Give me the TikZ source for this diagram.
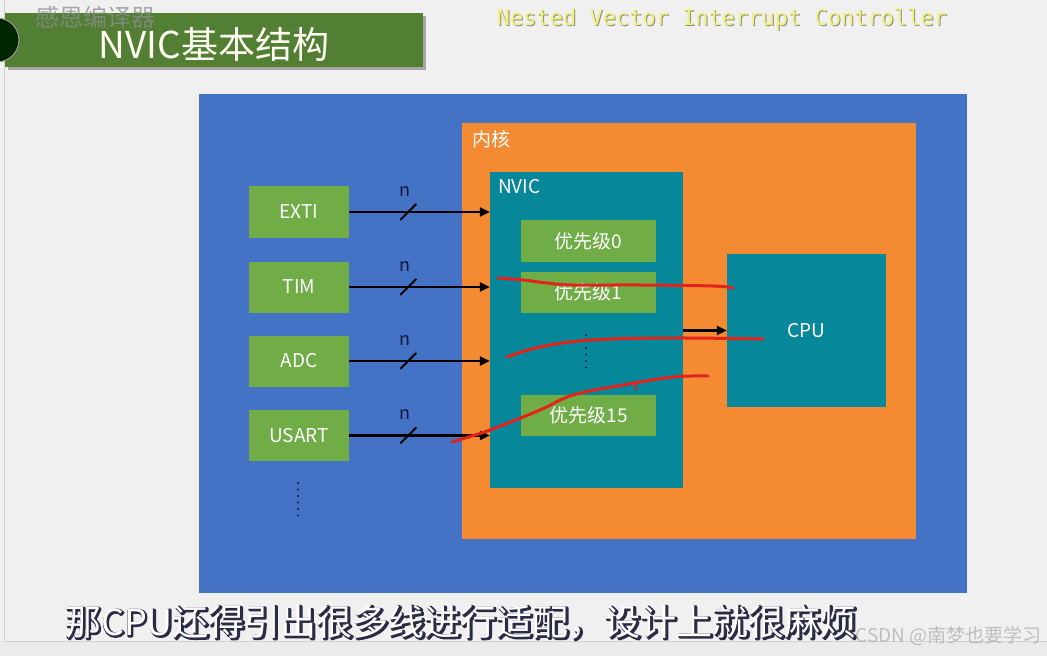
\documentclass[tikz,border=0pt]{standalone}
\usepackage{fontspec}
\setmainfont{Noto Sans CJK SC}
\newfontfamily\monof{DejaVu Sans Mono}
\newfontfamily\strokef[FakeBold=7]{Noto Sans CJK SC}
\usetikzlibrary{arrows.meta}
\definecolor{bgc}{HTML}{F0F0F0}
\definecolor{bannerc}{HTML}{527F33}
\definecolor{bluec}{HTML}{4472C4}
\definecolor{orangec}{HTML}{F48A31}
\definecolor{tealc}{HTML}{06879A}
\definecolor{greenc}{HTML}{70AD47}
\definecolor{redc}{HTML}{E2231A}
\definecolor{yellowc}{HTML}{F2F27A}
\definecolor{subout}{HTML}{2A2B45}
\definecolor{navyc}{HTML}{16183A}
\newcommand{\fsz}[1]{\fontsize{#1pt}{#1pt}\selectfont}
\tikzset{
  gbox/.style={fill=greenc, draw=none, text=white, font=\fsz{19}, inner sep=0pt},
  arr/.style={line width=2.8pt, draw=black, -{Triangle[length=10pt,width=9pt]}},
  sl/.style={line width=1.8pt, draw=black},
  nlab/.style={text=navyc, font=\fsz{18}, inner sep=0pt},
  lbl/.style={text=white, font=\fsz{19}, inner sep=0pt, anchor=north west},
  annot/.style={draw=redc, line width=3pt, line cap=round, line join=round},
  vdots/.style={draw=navyc, line width=2.2pt, line cap=round, dash pattern=on 0pt off 6.5pt},
  sub/.style={font=\fsz{36}, inner sep=0pt},
}
\begin{document}
\begin{tikzpicture}[x=1pt,y=-1pt]
\useasboundingbox (0,0) rectangle (1047,656);
\fill[bgc] (0,0) rectangle (1047,656);
\fill[white!92!black] (0,641) rectangle (1047,656);
\draw[black!18, line width=0.8pt] (4,-2) -- (4,641) -- (1050,641);
% banner
\fill[black!35] (8,16) rectangle (426,70);
\fill[bannerc] (5,13) rectangle (423,67);
\filldraw[fill=black!85!green, draw=black!40, line width=1pt] (-3,40) circle (22);
\node[text=white!95!yellow, font=\fsz{37}, inner sep=0pt] (title) at (214,44) {NVIC基本结构};
\node[text=black!45, opacity=0.75, font=\fsz{24}, inner sep=0pt] (wm1) at (95,17) {感恩编译器};
% english title
\node[text=black!45, font=\monof\fsz{22}, inner sep=0pt] (engsh) at (723,20) {Nested Vector Interrupt Controller};
\node[text=yellowc, font=\monof\fsz{22}, inner sep=0pt] (eng) at (722,19) {Nested Vector Interrupt Controller};
% main blocks
\fill[bluec] (199,94) rectangle (967,593);
\node[fill=orangec, minimum width=454pt, minimum height=416pt, inner sep=0pt] (core) at (689,331) {};
\node[lbl] (corel) at ([shift={(10,7)}]core.north west) {内核};
\node[fill=tealc, minimum width=193pt, minimum height=316pt, inner sep=0pt] (nvic) at (586.5,330) {};
\node[lbl] (nvicl) at ([shift={(8,7)}]nvic.north west) {NVIC};
\node[gbox, minimum width=135pt, minimum height=42pt] (p0) at (588.5,241) {优先级0};
\node[gbox, minimum width=135pt, minimum height=41pt] (p1) at (588.5,292.5) {优先级1};
\node[gbox, minimum width=135pt, minimum height=41pt] (p15) at (588.5,415.5) {优先级15};
\coordinate (d1a) at (586,335);
\coordinate (d1b) at (586,371);
\draw[vdots] (d1a) -- (d1b);
\node[fill=tealc, text=white, font=\fsz{19}, minimum width=159pt, minimum height=153pt, inner sep=0pt] (cpu) at (806.5,330.5) {CPU};
\draw[arr] (nvic.east |- cpu.west) -- (cpu.west);
% sources
\node[gbox, minimum width=100pt, minimum height=52pt] (exti) at (299,212) {EXTI};
\node[gbox, minimum width=100pt, minimum height=51pt] (tim) at (299,287) {TIM};
\node[gbox, minimum width=100pt, minimum height=51pt] (adc) at (299,361) {ADC};
\node[gbox, minimum width=100pt, minimum height=51pt] (usart) at (299,435.5) {USART};
\foreach \s in {exti,tim,adc,usart}{
  \draw[arr] (\s.east) -- coordinate[pos=0.42] (\s m) (\s.east -| nvic.west);
  \draw[sl] ([shift={(-8,8)}]\s m) -- ([shift={(8,-8)}]\s m);
  \node[nlab] (\s n) at ([shift={(-3,-21)}]\s m) {n};
}
\coordinate (d2a) at (298,483);
\coordinate (d2b) at (298,519);
\draw[vdots] (d2a) -- (d2b);
% red annotations
\draw[annot] plot[smooth, tension=0.6] coordinates {(498,278) (523,280) (547,283) (573,285) (640,285) (713,286) (733,288)};
\draw[annot] plot[smooth, tension=0.6] coordinates {(507,357) (540,347) (590,340) (673,338) (763,339)};
\draw[annot] plot[smooth, tension=0.6] coordinates {(452,442) (490,430) (540,410) (573,395) (623,385) (673,377) (708,376)};
\draw[annot, line width=1.8pt] (635,382) -- (636,390);
% subtitle: dark stroked copy behind, white on top
\node[sub, font=\strokef\fsz{36}, text=subout, line join=round] (subo) at (462,623) {那CPU还得引出很多线进行适配，设计上就很麻烦};
\node[sub, text=white] (sub) at (461,622) {那CPU还得引出很多线进行适配，设计上就很麻烦};
\node[text=black!30, opacity=0.8, font=\fsz{19}, inner sep=0pt, anchor=east] (csdn) at (1042,636) {CSDN @南梦也要学习};
\end{tikzpicture}
\end{document}
